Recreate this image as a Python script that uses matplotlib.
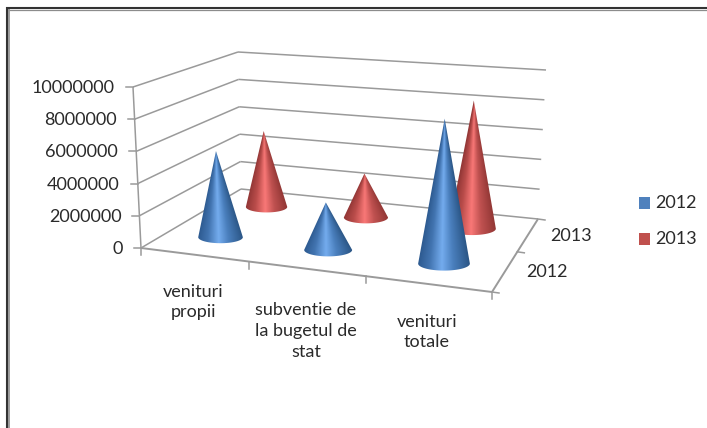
import numpy as np
import matplotlib
matplotlib.use("Agg")
import matplotlib.pyplot as plt
from matplotlib.patches import PathPatch, Rectangle
from matplotlib.path import Path
from matplotlib.colors import LinearSegmentedColormap

categories = ["venituri\npropii", "subventie de\nla bugetul de\nstat", "venituri\ntotale"]
series_names = ["2012", "2013"]
values_2012 = [5500000, 2950000, 8800000]
values_2013 = [5250000, 2950000, 8400000]
y_ticks = [0, 2000000, 4000000, 6000000, 8000000, 10000000]
Y_MAX = 10000000

W, H = 707, 428
plt.rcParams["font.family"] = ["Lato", "DejaVu Sans"]
TEXT = "#2a2a2a"
GRID = "#9a9a9a"
FS = 13

fig = plt.figure(figsize=(W / 100, H / 100), dpi=100, facecolor="white")
ax = fig.add_axes([0, 0, 1, 1])
ax.set_xlim(0, W)
ax.set_ylim(H, 0)
ax.axis("off")


def homography(src, dst):
    A = []
    for (x, y), (X, Y) in zip(src, dst):
        A.append([x, y, 1, 0, 0, 0, -X * x, -X * y, -X])
        A.append([0, 0, 0, x, y, 1, -Y * x, -Y * y, -Y])
    _, _, vt = np.linalg.svd(np.array(A, float))
    return vt[-1].reshape(3, 3)


unit = [(0, 0), (3, 0), (3, 2), (0, 2)]
FLOOR = homography(unit, [(141, 248), (492, 292), (538, 219), (241, 189)])
CEIL = homography(unit, [(133, 87), (501, 119), (546, 70), (238, 52)])


def hmap(M, u, v):
    p = M @ np.array([u, v, 1.0])
    return p[:2] / p[2]


def proj(u, v, val=0.0):
    """Chart coordinates (category, series depth, value) to canvas."""
    a, b = hmap(FLOOR, u, v), hmap(CEIL, u, v)
    return a + (b - a) * (val / Y_MAX)


def line3d(p, q, **kw):
    a, b = proj(*p), proj(*q)
    ax.plot([a[0], b[0]], [a[1], b[1]], color=GRID, solid_capstyle="butt", **kw)


# walls and floor axes
for t in y_ticks:
    line3d((0, 0, t), (0, 2, t), lw=1.1, zorder=1)
    line3d((0, 2, t), (3, 2, t), lw=1.1, zorder=1)
    a = proj(0, 0, t)
    ax.plot([a[0] - 7, a[0]], [a[1], a[1]], color=GRID, lw=1.1, zorder=1)
    ax.text(a[0] - 18, a[1] + 1, f"{t}", ha="right", va="center", fontsize=FS, color=TEXT)
line3d((0, 0, 0), (0, 0, Y_MAX), lw=1.1, zorder=1)
line3d((0, 0, 0), (3, 0, 0), lw=1.4, zorder=1)
line3d((3, 0, 0), (3, 2, 0), lw=1.4, zorder=1)
for i in range(4):
    a = proj(i, 0)
    ax.plot([a[0], a[0]], [a[1], a[1] + 7], color=GRID, lw=1.1, zorder=1)
for j in range(3):
    a = proj(3, j)
    ax.plot([a[0], a[0] + 7], [a[1], a[1] + 1], color=GRID, lw=1.1, zorder=1)

blue_cm = LinearSegmentedColormap.from_list(
    "b", [(0, "#2d5a90"), (0.22, "#4274b0"), (0.46, "#74acee"), (0.68, "#4a7fbd"), (1, "#2b5686")])
red_cm = LinearSegmentedColormap.from_list(
    "r", [(0, "#933736"), (0.22, "#b94c4a"), (0.46, "#f97877"), (0.68, "#bf5150"), (1, "#8f3533")])


def cone(u, v, val, cmap, z):
    c = proj(u, v)
    tip = proj(u, v, val)
    l, r = proj(u - 0.215, v), proj(u + 0.215, v)
    rx = (r[0] - l[0]) / 2
    ry = rx * 0.27
    th = np.linspace(0, np.pi, 40)
    ex = c[0] + rx * np.cos(th)
    ey = c[1] + ry * np.sin(th)
    verts = [(tip[0], tip[1])] + list(zip(ex, ey)) + [(tip[0], tip[1])]
    codes = [Path.MOVETO] + [Path.LINETO] * (len(verts) - 2) + [Path.CLOSEPOLY]
    # shading follows the cone: colour depends on position across its local width
    x0, x1 = min(c[0] - rx, tip[0]) - 1, max(c[0] + rx, tip[0]) + 1
    y0, y1 = tip[1] - 1, ey.max() + 1
    xs = np.linspace(x0, x1, 200)
    ys = np.linspace(y0, y1, 300)
    X, Y = np.meshgrid(xs, ys)
    s = np.clip((Y - tip[1]) / (c[1] - tip[1]), 0.005, 1.0)
    cx = tip[0] + (c[0] - tip[0]) * s
    shade = np.clip(0.5 + (X - cx) / (2 * rx * s), 0, 1)
    im = ax.imshow(shade, cmap=cmap, vmin=0, vmax=1, extent=(x0, x1, y1, y0), origin="upper",
                   aspect="auto", zorder=z, interpolation="bilinear")
    im.set_clip_path(PathPatch(Path(verts, codes), transform=ax.transData))


# back series first so the front cones overlap them
for i, val in enumerate(values_2013):
    cone(i + 0.5, 1.5, val, red_cm, 2)
for i, val in enumerate(values_2012):
    cone(i + 0.5, 0.5, val, blue_cm, 3)
ax.set_xlim(0, W)
ax.set_ylim(H, 0)

# text
LS = 1.36
ax.text(193, 302, categories[0], ha="center", va="center", fontsize=FS, color=TEXT, linespacing=LS, multialignment="center")
ax.text(306, 331, categories[1], ha="center", va="center", fontsize=FS, color=TEXT, linespacing=LS, multialignment="center")
ax.text(427, 332, categories[2], ha="center", va="center", fontsize=FS, color=TEXT, linespacing=LS, multialignment="center")
ax.text(571, 236, series_names[1], ha="center", va="center", fontsize=FS, color=TEXT)
ax.text(547, 272, series_names[0], ha="center", va="center", fontsize=FS, color=TEXT)

# legend
for name, col, yy in zip(series_names, ["#4f81bd", "#c0504d"], [197, 233]):
    ax.add_patch(Rectangle((639, yy), 11, 11.5, fc=col, ec="none", zorder=4))
    ax.text(655, yy + 6, name, ha="left", va="center", fontsize=FS, color=TEXT)

# frame
ax.plot([9, 9], [9, H], color="#8c8c8c", lw=1.2, solid_capstyle="butt", zorder=5)
ax.plot([9, W], [9.5, 9.5], color="#8c8c8c", lw=0.9, solid_capstyle="butt", zorder=5)
ax.plot([7, 7], [7, H], color="#333333", lw=1.5, solid_capstyle="butt", zorder=6)
ax.plot([6, W], [8, 8], color="#333333", lw=1.5, solid_capstyle="butt", zorder=6)

fig.savefig("out.png", dpi=100)
